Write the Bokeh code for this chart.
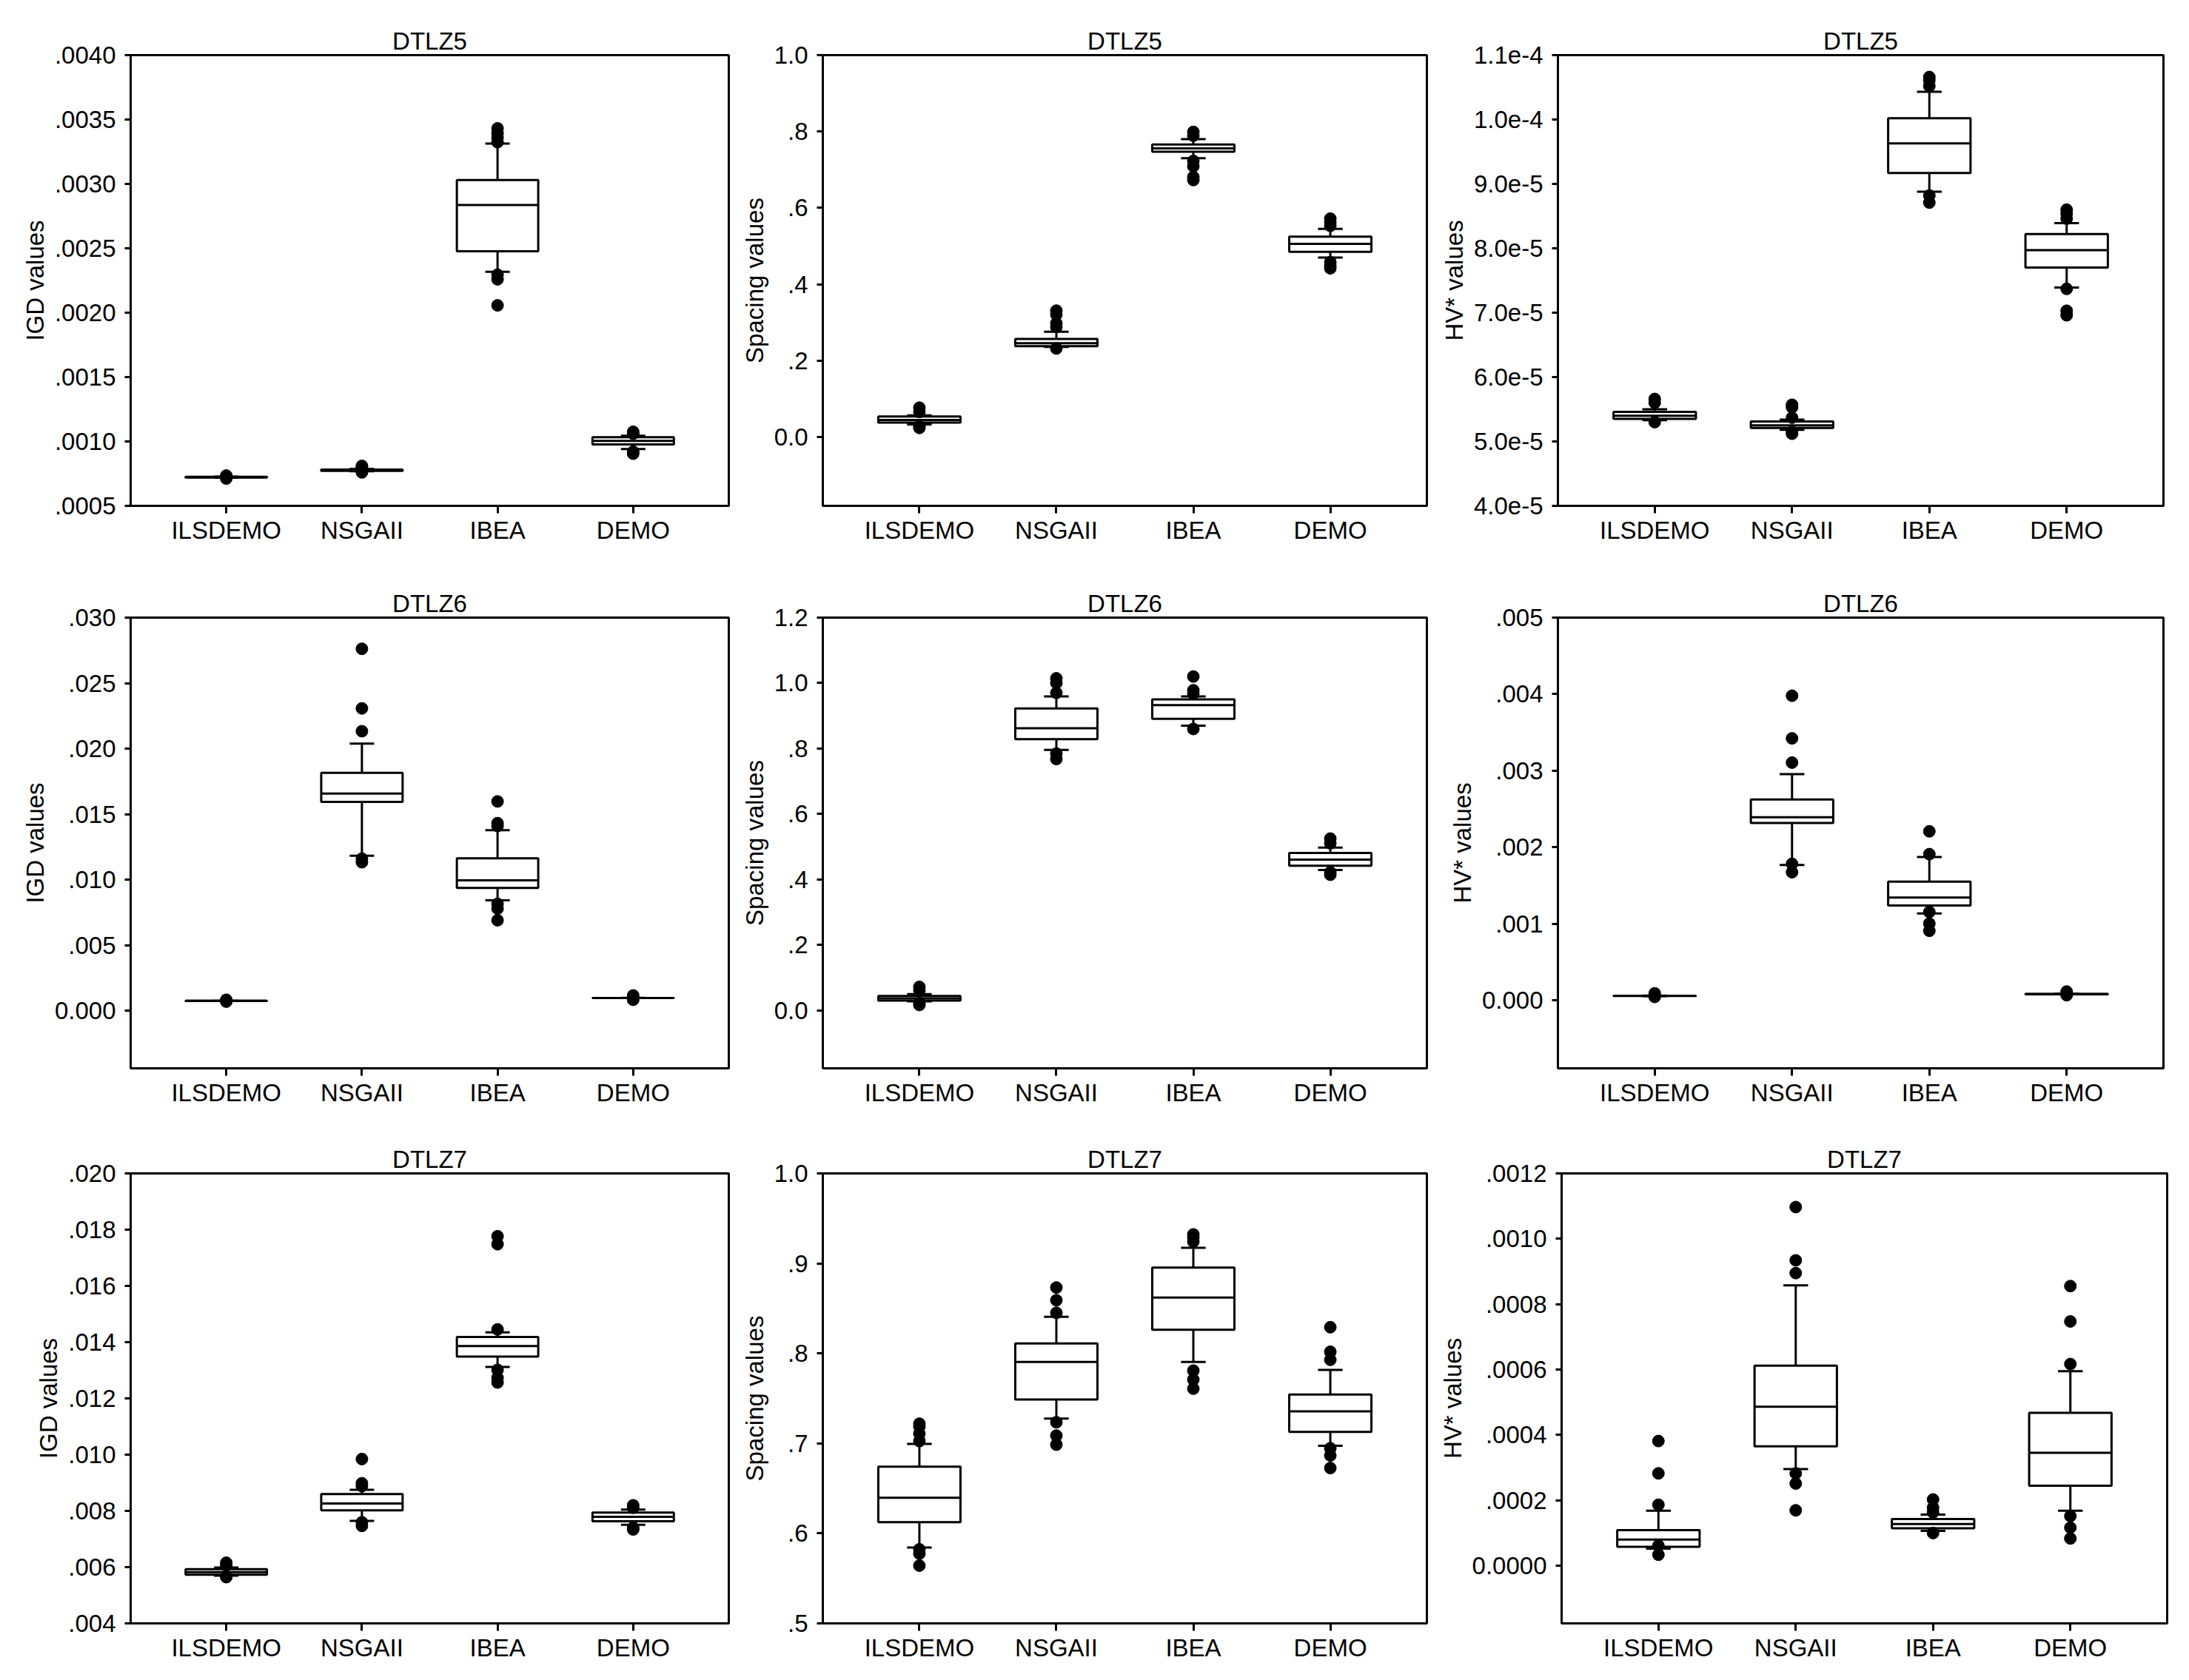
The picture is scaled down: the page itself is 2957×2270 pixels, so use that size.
from bokeh.plotting import figure
from bokeh.layouts import column, row
from bokeh.models import Range1d, FixedTicker
from bokeh.embed import file_html
from bokeh.resources import INLINE

CATEGORIES = ["ILSDEMO", "NSGAII", "IBEA", "DEMO"]

# ---------------- DTLZ5 ----------------
igd5_lo = [0.000718, 0.000768, 0.002317, 0.000941]
igd5_q1 = [0.000720, 0.000772, 0.002477, 0.000977]
igd5_med = [0.000722, 0.000777, 0.002836, 0.001005]
igd5_q3 = [0.000725, 0.000782, 0.003030, 0.001033]
igd5_hi = [0.000727, 0.000787, 0.003313, 0.001044]
igd5_out = [[0.000735, 0.000728, 0.000712],
            [0.000810, 0.000800, 0.000760],
            [0.003431, 0.003394, 0.003360, 0.003324, 0.002295, 0.002259, 0.002057],
            [0.001075, 0.001060, 0.000921, 0.000905]]
igd5_ticks = [0.0005, 0.0010, 0.0015, 0.0020, 0.0025, 0.0030, 0.0035, 0.0040]
igd5_labels = [".0005", ".0010", ".0015", ".0020", ".0025", ".0030", ".0035", ".0040"]

sp5_lo = [0.033, 0.236, 0.730, 0.470]
sp5_q1 = [0.038, 0.238, 0.747, 0.485]
sp5_med = [0.045, 0.246, 0.756, 0.506]
sp5_q3 = [0.054, 0.257, 0.766, 0.525]
sp5_hi = [0.057, 0.276, 0.780, 0.545]
sp5_out = [[0.077, 0.066, 0.028, 0.024],
           [0.331, 0.321, 0.298, 0.288, 0.232],
           [0.799, 0.789, 0.723, 0.709, 0.681, 0.673],
           [0.572, 0.562, 0.553, 0.458, 0.449, 0.442]]
sp5_ticks = [0.0, 0.2, 0.4, 0.6, 0.8, 1.0]
sp5_labels = ["0.0", ".2", ".4", ".6", ".8", "1.0"]

hv5_lo = [5.33e-5, 5.18e-5, 8.88e-5, 7.39e-5]
hv5_q1 = [5.35e-5, 5.21e-5, 9.17e-5, 7.70e-5]
hv5_med = [5.40e-5, 5.25e-5, 9.63e-5, 7.97e-5]
hv5_q3 = [5.46e-5, 5.31e-5, 1.002e-4, 8.22e-5]
hv5_hi = [5.50e-5, 5.34e-5, 1.043e-4, 8.39e-5]
hv5_out = [[5.66e-5, 5.60e-5, 5.30e-5],
           [5.57e-5, 5.53e-5, 5.37e-5, 5.15e-5, 5.12e-5],
           [1.066e-4, 1.061e-4, 1.052e-4, 8.82e-5, 8.71e-5],
           [8.60e-5, 8.54e-5, 8.46e-5, 7.37e-5, 7.03e-5, 6.96e-5]]
hv5_ticks = [4e-5, 5e-5, 6e-5, 7e-5, 8e-5, 9e-5, 1e-4, 1.1e-4]
hv5_labels = ["4.0e-5", "5.0e-5", "6.0e-5", "7.0e-5", "8.0e-5", "9.0e-5", "1.0e-4", "1.1e-4"]

# ---------------- DTLZ6 ----------------
igd6_lo = [0.000740, 0.01182, 0.008425, 0.000960]
igd6_q1 = [0.000745, 0.01594, 0.009365, 0.000965]
igd6_med = [0.000748, 0.01657, 0.009945, 0.000968]
igd6_q3 = [0.000750, 0.01815, 0.01163, 0.000970]
igd6_hi = [0.000755, 0.02039, 0.01378, 0.000975]
igd6_out = [[0.00083, 0.00069],
            [0.02762, 0.02307, 0.02133, 0.0116, 0.01133],
            [0.01597, 0.01431, 0.01409, 0.00815, 0.00779, 0.0069],
            [0.00116, 0.00083]]
igd6_ticks = [0.0, 0.005, 0.010, 0.015, 0.020, 0.025, 0.030]
igd6_labels = ["0.000", ".005", ".010", ".015", ".020", ".025", ".030"]

sp6_lo = [0.0276, 0.7956, 0.8696, 0.4287]
sp6_q1 = [0.0298, 0.8287, 0.8906, 0.4420]
sp6_med = [0.0365, 0.8619, 0.9326, 0.4608]
sp6_q3 = [0.0442, 0.9227, 0.9503, 0.4807]
sp6_hi = [0.0497, 0.9591, 0.9591, 0.4972]
sp6_out = [[0.0718, 0.0608, 0.0220, 0.0166],
           [1.0144, 1.0000, 0.9700, 0.7845, 0.7680],
           [1.0200, 0.9780, 0.9670, 0.8597],
           [0.5249, 0.5105, 0.4221, 0.4144]]
sp6_ticks = [0.0, 0.2, 0.4, 0.6, 0.8, 1.0, 1.2]
sp6_labels = ["0.0", ".2", ".4", ".6", ".8", "1.0", "1.2"]

hv6_lo = [5.3e-5, 0.001767, 0.001134, 7.6e-5]
hv6_q1 = [5.5e-5, 0.002316, 0.001238, 7.8e-5]
hv6_med = [5.7e-5, 0.002391, 0.001342, 8.0e-5]
hv6_q3 = [5.9e-5, 0.002623, 0.001550, 8.2e-5]
hv6_hi = [6.1e-5, 0.002954, 0.001871, 8.4e-5]
hv6_out = [[9.0e-5, 4.3e-5],
           [0.003979, 0.003422, 0.003105, 0.001782, 0.001673],
           [0.002207, 0.001909, 0.001153, 0.001002, 0.000907],
           [0.000113, 6.6e-5]]
hv6_ticks = [0.0, 0.001, 0.002, 0.003, 0.004, 0.005]
hv6_labels = ["0.000", ".001", ".002", ".003", ".004", ".005"]

# ---------------- DTLZ7 ----------------
igd7_lo = [0.005695, 0.007647, 0.013117, 0.007505]
igd7_q1 = [0.005733, 0.008019, 0.013490, 0.007634]
igd7_med = [0.005823, 0.008263, 0.013862, 0.007788]
igd7_q3 = [0.005926, 0.008597, 0.014183, 0.007942]
igd7_hi = [0.005990, 0.008751, 0.014350, 0.008045]
igd7_out = [[0.006157, 0.006055, 0.005644],
            [0.009843, 0.008983, 0.008880, 0.007596, 0.007467],
            [0.017766, 0.017483, 0.014453, 0.013014, 0.012732, 0.012565],
            [0.008200, 0.008110, 0.007403, 0.007339]]
igd7_ticks = [0.004, 0.006, 0.008, 0.010, 0.012, 0.014, 0.016, 0.018, 0.020]
igd7_labels = [".004", ".006", ".008", ".010", ".012", ".014", ".016", ".018", ".020"]

sp7_lo = [0.5843, 0.7275, 0.7905, 0.6974]
sp7_q1 = [0.6124, 0.7488, 0.8262, 0.7127]
sp7_med = [0.6396, 0.7905, 0.8620, 0.7356]
sp7_q3 = [0.6742, 0.8110, 0.8953, 0.7544]
sp7_hi = [0.6994, 0.8407, 0.9173, 0.7817]
sp7_out = [[0.7219, 0.7187, 0.7107, 0.7026, 0.5823, 0.5775, 0.5642],
           [0.8732, 0.8591, 0.8451, 0.7235, 0.7087, 0.6986],
           [0.9322, 0.9286, 0.9242, 0.7809, 0.7709, 0.7608],
           [0.8291, 0.8018, 0.7929, 0.6946, 0.6866, 0.6726]]
sp7_ticks = [0.5, 0.6, 0.7, 0.8, 0.9, 1.0]
sp7_labels = [".5", ".6", ".7", ".8", ".9", "1.0"]

hv7_lo = [0.0000520, 0.0002950, 0.0001061, 0.0001680]
hv7_q1 = [0.0000575, 0.0003646, 0.0001138, 0.0002442]
hv7_med = [0.0000796, 0.0004862, 0.0001271, 0.0003448]
hv7_q3 = [0.0001083, 0.0006120, 0.0001425, 0.0004674]
hv7_hi = [0.0001680, 0.0008575, 0.0001558, 0.0005945]
hv7_out = [[0.000381, 0.000282, 0.000186, 0.0000608, 0.0000331],
           [0.001097, 0.000934, 0.000895, 0.000282, 0.000251, 0.000169],
           [0.0002022, 0.0001768, 0.0001624, 0.0000994],
           [0.0008552, 0.000747, 0.0006166, 0.0001514, 0.000116, 0.0000829]]
hv7_ticks = [0.0, 0.0002, 0.0004, 0.0006, 0.0008, 0.0010, 0.0012]
hv7_labels = ["0.0000", ".0002", ".0004", ".0006", ".0008", ".0010", ".0012"]

# ---------------- layout / style ----------------
FONT = "Liberation Sans"
FS = "33px"
LW = 3
BOX_W = 0.6
CAP_W = 0.18

COL_LEFT = [176, 121, 164]
COL_FRAME_W = [808, 816, 818]
COL_RIGHT = [6, 13, 15]
ROW_TOP = [74, 74, 75]
ROW_FRAME_H = [609, 609, 608]
ROW_BOTTOM = [77, 67, 61]


def make_panel(r, c, title, ylabel, y_range, lo, q1, med, q3, hi, out, ticks, labels):
    p = figure(frame_width=COL_FRAME_W[c], frame_height=ROW_FRAME_H[r],
               min_border_left=COL_LEFT[c], min_border_right=COL_RIGHT[c],
               min_border_top=ROW_TOP[r], min_border_bottom=ROW_BOTTOM[r],
               x_range=Range1d(0.295, 4.705), y_range=Range1d(*y_range),
               output_backend="svg", toolbar_location=None,
               background_fill_color="white", border_fill_color="white")
    p.xgrid.visible = False
    p.ygrid.visible = False
    p.outline_line_color = "black"
    p.outline_line_width = LW
    p.outline_line_alpha = 1.0

    p.title.text = title
    p.title.align = "center"
    p.title.text_font = FONT
    p.title.text_font_size = FS
    p.title.text_font_style = "normal"
    p.title.text_color = "black"
    p.title.standoff = 2

    xs = list(range(1, len(CATEGORIES) + 1))

    xa = p.xaxis[0]
    xa.ticker = FixedTicker(ticks=xs)
    xa.major_label_overrides = {x: name for x, name in zip(xs, CATEGORIES)}
    xa.major_tick_out = 10
    xa.major_tick_in = 0
    xa.major_label_standoff = 4

    ya = p.yaxis[0]
    ya.ticker = FixedTicker(ticks=ticks)
    ya.major_label_overrides = {float(t): s for t, s in zip(ticks, labels)}
    ya.major_tick_out = 8
    ya.major_tick_in = 0
    ya.major_label_standoff = 12
    ya.axis_label = ylabel
    ya.axis_label_standoff = 5

    for ax in (xa, ya):
        ax.axis_line_width = LW
        ax.axis_line_color = "black"
        ax.major_tick_line_width = LW
        ax.major_tick_line_color = "black"
        ax.minor_tick_out = 0
        ax.minor_tick_in = 0
        ax.major_label_text_font = FONT
        ax.major_label_text_font_size = FS
        ax.major_label_text_color = "black"
        ax.axis_label_text_font = FONT
        ax.axis_label_text_font_size = FS
        ax.axis_label_text_font_style = "normal"
        ax.axis_label_text_color = "black"

    # whiskers
    p.segment(x0=xs, y0=q3, x1=xs, y1=hi, line_color="black", line_width=LW)
    p.segment(x0=xs, y0=q1, x1=xs, y1=lo, line_color="black", line_width=LW)
    left_cap = [x - CAP_W / 2 for x in xs]
    right_cap = [x + CAP_W / 2 for x in xs]
    p.segment(x0=left_cap, y0=hi, x1=right_cap, y1=hi, line_color="black", line_width=LW)
    p.segment(x0=left_cap, y0=lo, x1=right_cap, y1=lo, line_color="black", line_width=LW)
    # boxes
    p.vbar(x=xs, width=BOX_W, bottom=q1, top=q3, fill_color="white",
           line_color="black", line_width=LW)
    # medians
    p.segment(x0=[x - BOX_W / 2 for x in xs], y0=med, x1=[x + BOX_W / 2 for x in xs], y1=med,
              line_color="black", line_width=LW)
    # outliers
    ox, oy = [], []
    for x, vals in zip(xs, out):
        for v in vals:
            ox.append(x)
            oy.append(v)
    p.scatter(x=ox, y=oy, size=16, fill_color="black", line_color="black")
    return p


panels = [
    [make_panel(0, 0, "DTLZ5", "IGD values", (0.0005, 0.0040),
                igd5_lo, igd5_q1, igd5_med, igd5_q3, igd5_hi, igd5_out, igd5_ticks, igd5_labels),
     make_panel(0, 1, "DTLZ5", "Spacing values", (-0.18, 1.0),
                sp5_lo, sp5_q1, sp5_med, sp5_q3, sp5_hi, sp5_out, sp5_ticks, sp5_labels),
     make_panel(0, 2, "DTLZ5", "HV* values", (4e-5, 1.1e-4),
                hv5_lo, hv5_q1, hv5_med, hv5_q3, hv5_hi, hv5_out, hv5_ticks, hv5_labels)],
    [make_panel(1, 0, "DTLZ6", "IGD values", (-0.0044, 0.030),
                igd6_lo, igd6_q1, igd6_med, igd6_q3, igd6_hi, igd6_out, igd6_ticks, igd6_labels),
     make_panel(1, 1, "DTLZ6", "Spacing values", (-0.177, 1.2),
                sp6_lo, sp6_q1, sp6_med, sp6_q3, sp6_hi, sp6_out, sp6_ticks, sp6_labels),
     make_panel(1, 2, "DTLZ6", "HV* values", (-0.00089, 0.005),
                hv6_lo, hv6_q1, hv6_med, hv6_q3, hv6_hi, hv6_out, hv6_ticks, hv6_labels)],
    [make_panel(2, 0, "DTLZ7", "IGD values", (0.004, 0.020),
                igd7_lo, igd7_q1, igd7_med, igd7_q3, igd7_hi, igd7_out, igd7_ticks, igd7_labels),
     make_panel(2, 1, "DTLZ7", "Spacing values", (0.5, 1.0),
                sp7_lo, sp7_q1, sp7_med, sp7_q3, sp7_hi, sp7_out, sp7_ticks, sp7_labels),
     make_panel(2, 2, "DTLZ7", "HV* values", (-0.000177, 0.0012),
                hv7_lo, hv7_q1, hv7_med, hv7_q3, hv7_hi, hv7_out, hv7_ticks, hv7_labels)],
]

layout = column(*[row(*r_) for r_ in panels])

open("out.html", "w").write(file_html(layout, INLINE))
